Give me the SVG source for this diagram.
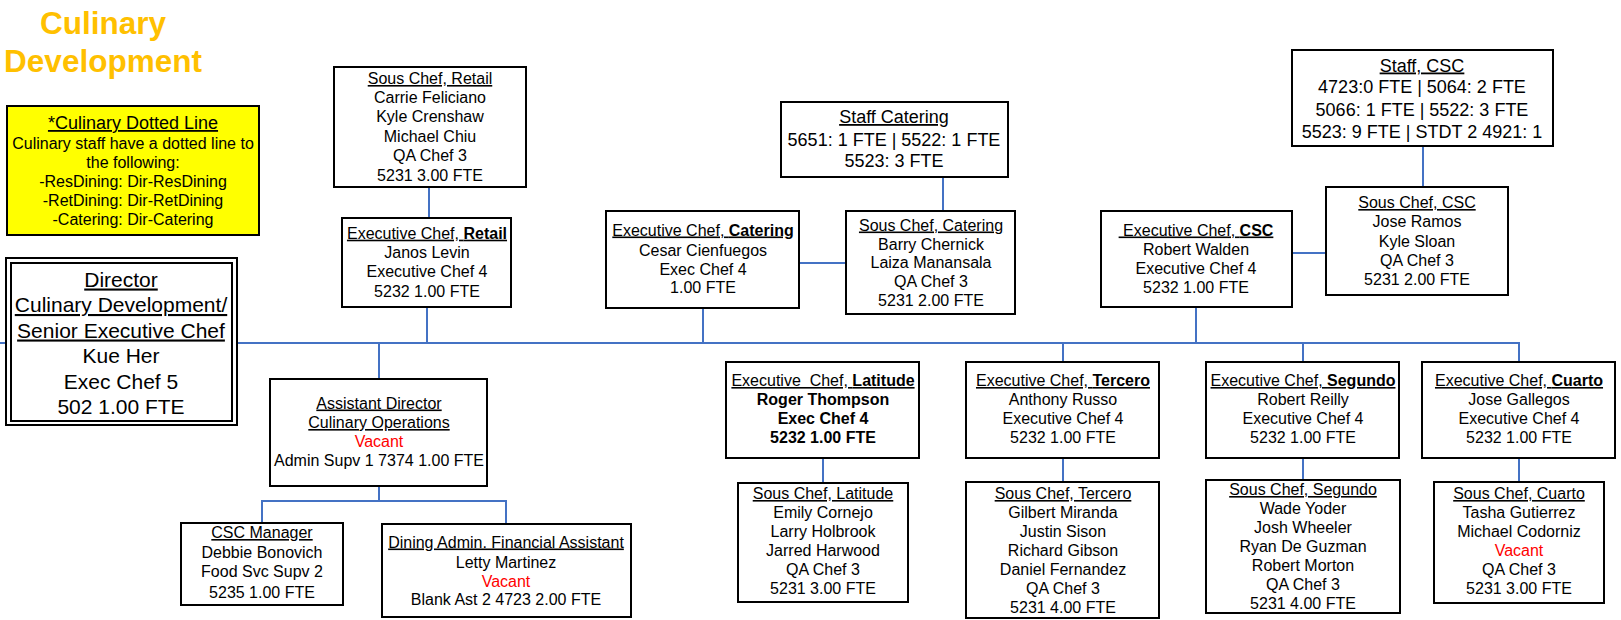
<svg xmlns="http://www.w3.org/2000/svg" width="1621" height="620" viewBox="0 0 1621 620">
<style>
.box{fill:#fff;stroke:#000;stroke-width:2}
.t{font-family:"Liberation Sans",Arial,sans-serif;font-size:16px;text-anchor:middle;fill:#000}
.s18{font-size:18px}
.s21{font-size:21px}
.u{text-decoration:underline}
.b{font-weight:bold}
.red{fill:#FF0000}
.pre{white-space:pre}
.conn{stroke:#4472C4;stroke-width:2;fill:none}
.title{font-family:"Liberation Sans",Arial,sans-serif;font-size:31.5px;font-weight:bold;fill:#FFC000;text-anchor:middle}
</style>
<rect width="1621" height="620" fill="#fff"/>
<g id="title">
<text class="title" x="103" y="34">Culinary</text>
<text class="title" x="103" y="71.5">Development</text>
</g>
<g id="connectors">
<path class="conn" d="M0,343 H1519 V362"/>
<path class="conn" d="M427,307 V343"/>
<path class="conn" d="M429,187 V218"/>
<path class="conn" d="M379,343 V379"/>
<path class="conn" d="M703,308 V343"/>
<path class="conn" d="M943,177 V211"/>
<path class="conn" d="M799,263 H846"/>
<path class="conn" d="M1196,307 V343"/>
<path class="conn" d="M1423,146 V187"/>
<path class="conn" d="M1292,253 H1326"/>
<path class="conn" d="M1063,343 V362"/>
<path class="conn" d="M1303,343 V362"/>
<path class="conn" d="M379,486 V501 M262,523 V501 H506 V524"/>
<path class="conn" d="M823,458 V483"/>
<path class="conn" d="M1063,458 V482"/>
<path class="conn" d="M1303,458 V480"/>
<path class="conn" d="M1519,458 V482"/>
</g>
<g id="dotted-line-note">
<rect x="7" y="106" width="252" height="129" fill="#FFFF00" stroke="#000" stroke-width="2"/>
<text class="t s18 u" x="133" y="129">*Culinary Dotted Line</text>
<text class="t" x="133" y="149">Culinary staff have a dotted line to</text>
<text class="t" x="133" y="168">the following:</text>
<text class="t" x="133" y="187">-ResDining: Dir-ResDining</text>
<text class="t" x="133" y="206">-RetDining: Dir-RetDining</text>
<text class="t" x="133" y="225">-Catering: Dir-Catering</text>
</g>
<g id="director">
<rect class="box" x="6" y="258" width="231" height="167"/>
<rect x="11" y="263" width="221" height="158" fill="none" stroke="#000" stroke-width="2"/>
<text class="t s21 u" x="121" y="286.5">Director</text>
<text class="t s21 u" x="121" y="312">Culinary Development/</text>
<text class="t s21 u" x="121" y="337.5">Senior Executive Chef</text>
<text class="t s21" x="121" y="363">Kue Her</text>
<text class="t s21" x="121" y="388.5">Exec Chef 5</text>
<text class="t s21" x="121" y="414">502 1.00 FTE</text>
</g>
<g id="sous-retail">
<rect class="box" x="334" y="67" width="192" height="120"/>
<text class="t u" x="430" y="84">Sous Chef, Retail</text>
<text class="t" x="430" y="103">Carrie Feliciano</text>
<text class="t" x="430" y="122.4">Kyle Crenshaw</text>
<text class="t" x="430" y="142">Michael Chiu</text>
<text class="t" x="430" y="161.4">QA Chef 3</text>
<text class="t" x="430" y="180.7">5231 3.00 FTE</text>
</g>
<g id="exec-retail">
<rect class="box" x="342" y="218" width="169" height="89"/>
<text class="t u" x="427" y="238.7">Executive Chef, <tspan class="b">Retail</tspan></text>
<text class="t" x="427" y="258">Janos Levin</text>
<text class="t" x="427" y="277.4">Executive Chef 4</text>
<text class="t" x="427" y="297.4">5232 1.00 FTE</text>
</g>
<g id="staff-catering">
<rect class="box" x="781" y="102" width="227" height="75"/>
<text class="t s18 u" x="894" y="123">Staff Catering</text>
<text class="t s18" x="894" y="145.5">5651: 1 FTE | 5522: 1 FTE</text>
<text class="t s18" x="894" y="167">5523: 3 FTE</text>
</g>
<g id="exec-catering">
<rect class="box" x="606" y="211" width="193" height="97"/>
<text class="t u" x="703" y="235.5">Executive Chef, <tspan class="b">Catering</tspan></text>
<text class="t" x="703" y="255.5">Cesar Cienfuegos</text>
<text class="t" x="703" y="274.5">Exec Chef 4</text>
<text class="t" x="703" y="293">1.00 FTE</text>
</g>
<g id="sous-catering">
<rect class="box" x="846" y="211" width="169" height="103"/>
<text class="t u" x="931" y="230.5">Sous Chef, Catering</text>
<text class="t" x="931" y="249.5">Barry Chernick</text>
<text class="t" x="931" y="268">Laiza Manansala</text>
<text class="t" x="931" y="287">QA Chef 3</text>
<text class="t" x="931" y="305.5">5231 2.00 FTE</text>
</g>
<g id="staff-csc">
<rect class="box" x="1292" y="50" width="261" height="96"/>
<text class="t s18 u" x="1422" y="71.5">Staff, CSC</text>
<text class="t s18" x="1422" y="93">4723:0 FTE | 5064: 2 FTE</text>
<text class="t s18" x="1422" y="115.5">5066: 1 FTE | 5522: 3 FTE</text>
<text class="t s18" x="1422" y="138">5523: 9 FTE | STDT 2 4921: 1</text>
</g>
<g id="exec-csc">
<rect class="box" x="1101" y="211" width="191" height="96"/>
<text class="t u pre" x="1196" y="235.5"> Executive Chef, <tspan class="b">CSC</tspan></text>
<text class="t" x="1196" y="255">Robert Walden</text>
<text class="t" x="1196" y="274">Executive Chef 4</text>
<text class="t" x="1196" y="293">5232 1.00 FTE</text>
</g>
<g id="sous-csc">
<rect class="box" x="1326" y="187" width="182" height="108"/>
<text class="t u" x="1417" y="208">Sous Chef, CSC</text>
<text class="t" x="1417" y="227">Jose Ramos</text>
<text class="t" x="1417" y="246.5">Kyle Sloan</text>
<text class="t" x="1417" y="265.5">QA Chef 3</text>
<text class="t" x="1417" y="285">5231 2.00 FTE</text>
</g>
<g id="asst-director">
<rect class="box" x="270" y="379" width="217" height="107"/>
<text class="t u" x="379" y="408.5">Assistant Director</text>
<text class="t u" x="379" y="428">Culinary Operations</text>
<text class="t red" x="379" y="447">Vacant</text>
<text class="t" x="379" y="466">Admin Supv 1 7374 1.00 FTE</text>
</g>
<g id="csc-manager">
<rect class="box" x="181" y="523" width="162" height="82"/>
<text class="t u" x="262" y="538">CSC Manager</text>
<text class="t" x="262" y="558">Debbie Bonovich</text>
<text class="t" x="262" y="577">Food Svc Supv 2</text>
<text class="t" x="262" y="598">5235 1.00 FTE</text>
</g>
<g id="dining-admin">
<rect class="box" x="382" y="524" width="249" height="93"/>
<text class="t u" x="506" y="547.5">Dining Admin. Financial Assistant</text>
<text class="t" x="506" y="567.5">Letty Martinez</text>
<text class="t red" x="506" y="586.5">Vacant</text>
<text class="t" x="506" y="604.5">Blank Ast 2 4723 2.00 FTE</text>
</g>
<g id="exec-latitude">
<rect class="box" x="726" y="362" width="193" height="96"/>
<text class="t u pre" x="823" y="386">Executive  Chef, <tspan class="b">Latitude</tspan></text>
<text class="t b" x="823" y="405">Roger Thompson</text>
<text class="t b" x="823" y="424">Exec Chef 4</text>
<text class="t b" x="823" y="443">5232 1.00 FTE</text>
</g>
<g id="sous-latitude">
<rect class="box" x="738" y="483" width="170" height="119"/>
<text class="t u" x="823" y="499">Sous Chef, Latitude</text>
<text class="t" x="823" y="518">Emily Cornejo</text>
<text class="t" x="823" y="537">Larry Holbrook</text>
<text class="t" x="823" y="556">Jarred Harwood</text>
<text class="t" x="823" y="575">QA Chef 3</text>
<text class="t" x="823" y="594">5231 3.00 FTE</text>
</g>
<g id="exec-tercero">
<rect class="box" x="966" y="362" width="193" height="96"/>
<text class="t u" x="1063" y="386">Executive Chef, <tspan class="b">Tercero</tspan></text>
<text class="t" x="1063" y="405">Anthony Russo</text>
<text class="t" x="1063" y="424">Executive Chef 4</text>
<text class="t" x="1063" y="443">5232 1.00 FTE</text>
</g>
<g id="sous-tercero">
<rect class="box" x="966" y="482" width="193" height="136"/>
<text class="t u" x="1063" y="499">Sous Chef, Tercero</text>
<text class="t" x="1063" y="518">Gilbert Miranda</text>
<text class="t" x="1063" y="537">Justin Sison</text>
<text class="t" x="1063" y="556">Richard Gibson</text>
<text class="t" x="1063" y="575">Daniel Fernandez</text>
<text class="t" x="1063" y="594">QA Chef 3</text>
<text class="t" x="1063" y="613">5231 4.00 FTE</text>
</g>
<g id="exec-segundo">
<rect class="box" x="1206" y="362" width="193" height="96"/>
<text class="t u" x="1303" y="386">Executive Chef, <tspan class="b">Segundo</tspan></text>
<text class="t" x="1303" y="405">Robert Reilly</text>
<text class="t" x="1303" y="424">Executive Chef 4</text>
<text class="t" x="1303" y="443">5232 1.00 FTE</text>
</g>
<g id="sous-segundo">
<rect class="box" x="1206" y="480" width="194" height="133"/>
<text class="t u" x="1303" y="495">Sous Chef, Segundo</text>
<text class="t" x="1303" y="514">Wade Yoder</text>
<text class="t" x="1303" y="533">Josh Wheeler</text>
<text class="t" x="1303" y="552">Ryan De Guzman</text>
<text class="t" x="1303" y="571">Robert Morton</text>
<text class="t" x="1303" y="590">QA Chef 3</text>
<text class="t" x="1303" y="609">5231 4.00 FTE</text>
</g>
<g id="exec-cuarto">
<rect class="box" x="1422" y="362" width="193" height="96"/>
<text class="t u" x="1519" y="386">Executive Chef, <tspan class="b">Cuarto</tspan></text>
<text class="t" x="1519" y="405">Jose Gallegos</text>
<text class="t" x="1519" y="424">Executive Chef 4</text>
<text class="t" x="1519" y="443">5232 1.00 FTE</text>
</g>
<g id="sous-cuarto">
<rect class="box" x="1434" y="482" width="170" height="121"/>
<text class="t u" x="1519" y="499">Sous Chef, Cuarto</text>
<text class="t" x="1519" y="518">Tasha Gutierrez</text>
<text class="t" x="1519" y="537">Michael Codorniz</text>
<text class="t red" x="1519" y="556">Vacant</text>
<text class="t" x="1519" y="575">QA Chef 3</text>
<text class="t" x="1519" y="594">5231 3.00 FTE</text>
</g>
</svg>
